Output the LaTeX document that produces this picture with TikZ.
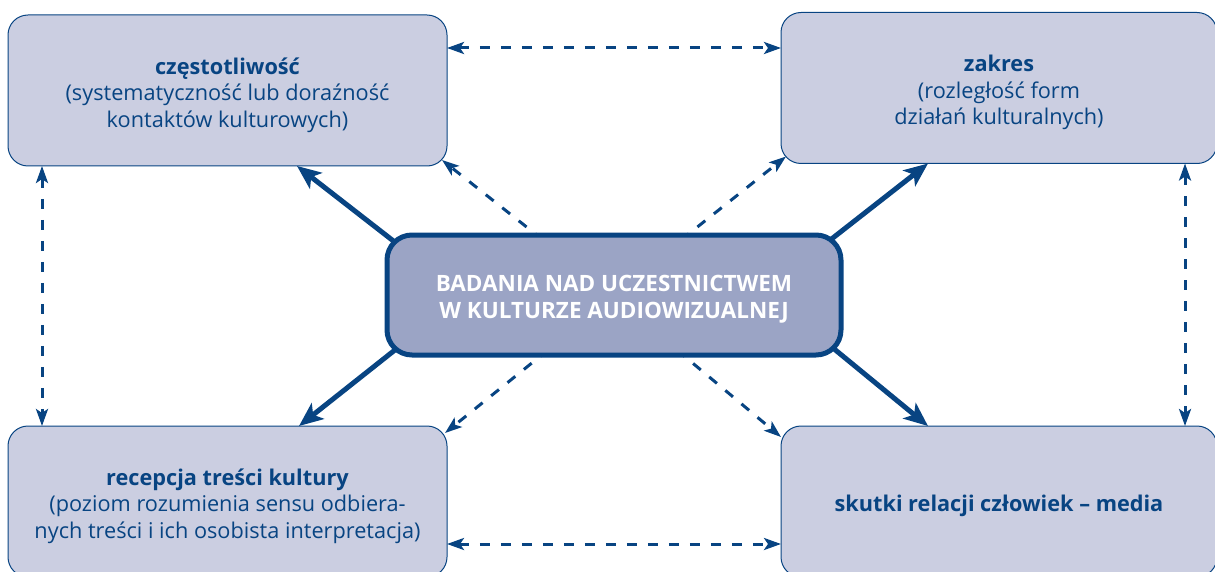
\documentclass[tikz,border=0pt]{standalone}
\usepackage{fontspec}
\setmainfont{Open Sans}
\usetikzlibrary{arrows.meta}
\definecolor{ink}{RGB}{8,68,130}
\definecolor{boxfill}{RGB}{203,206,225}
\definecolor{hubfill}{RGB}{155,164,197}
\pgfdeclarelayer{background}
\pgfsetlayers{background,main}
% centred lines of text, set a little below the middle of their box
\newcommand{\lowertext}[1]{\raisebox{-5pt}[\height][\depth]{\begin{tabular}{@{}c@{}}#1\end{tabular}}}
\tikzset{
  topic/.style={draw=ink, line width=1pt, fill=boxfill, rounded corners=20pt,
    minimum width=439pt, minimum height=151pt, inner sep=0pt, outer sep=0pt,
    align=center, text=ink, font=\fontsize{21.7}{26.5}\selectfont},
  hub/.style={draw=ink, line width=5pt, fill=hubfill, rounded corners=25pt,
    minimum width=454pt, minimum height=120pt, inner sep=0pt, outer sep=0pt,
    align=center, text=white, font=\fontsize{22.5}{27}\selectfont\bfseries},
  link/.style={draw=ink, line width=5pt,
    -{Stealth[length=24pt,width=20pt,inset=6pt]}},
  cross/.style={draw=ink, line width=3pt, dash pattern=on 10pt off 11pt,
    -{Stealth[length=17pt,width=12pt,inset=4pt]}},
  twoway/.style={draw=ink, line width=3pt, dash pattern=on 10pt off 11pt,
    {Stealth[length=17pt,width=12pt,inset=4pt]}-{Stealth[length=17pt,width=12pt,inset=4pt]}},
}
\begin{document}
\begin{tikzpicture}[x=1pt,y=-1pt]
\useasboundingbox (0,0) rectangle (1215,572);

% four aspects of participation
\node[topic] (tl) at (227.5,90.5)
  {\lowertext{\textbf{częstotliwość}\\(systematyczność lub doraźność\\kontaktów kulturowych)}};
\node[topic, minimum width=436pt] (tr) at (999,88)
  {\lowertext{\textbf{zakres}\\(rozległość form\\działań kulturalnych)}};
\node[topic] (bl) at (227.5,501.5)
  {\lowertext{\textbf{recepcja treści kultury}\\(poziom rozumienia sensu odbiera-\\nych treści i ich osobista interpretacja)}};
\node[topic, minimum width=436pt] (br) at (999,501.5)
  {\lowertext{\textbf{skutki relacji człowiek -- media}}};

% central theme
\node[hub] (c) at (614,295)
  {\lowertext{BADANIA NAD UCZESTNICTWEM\\W KULTURZE AUDIOWIZUALNEJ}};

\begin{pgfonlayer}{background}
  % main links from the centre
  \draw[link] ([shift={(18,15)}]c.north west) -- ([shift={(69.5,0)}]tl.south);
  \draw[link] ([shift={(-21,13)}]c.north east) -- ([shift={(-71,0)}]tr.south);
  \draw[link] ([shift={(18,-13)}]c.south west) -- ([shift={(71.5,0)}]bl.north);
  \draw[link] ([shift={(-19,-16)}]c.south east) -- ([shift={(-71,0)}]br.north);
  % secondary links to the box corners
  \draw[cross] ([shift={(156,5)}]c.north west) -- ([shift={(-5,-6)}]tl.south east);
  \draw[cross] ([shift={(-160,5)}]c.north east) -- ([shift={(5,-7)}]tr.south west);
  \draw[cross] ([shift={(161,-5)}]c.south west) -- ([shift={(-2,7)}]bl.north east);
  \draw[cross] ([shift={(-164,-5)}]c.south east) -- ([shift={(0,11)}]br.north west);
  % links between neighbouring aspects
  \draw[twoway] ([shift={(0,-42.5)}]tl.east) -- ([shift={(0,-40)}]tr.west);
  \draw[twoway] ([shift={(0,42.5)}]bl.east) -- ([shift={(0,42.5)}]br.west);
  \draw[twoway] ([shift={(-185.5,0)}]tl.south) -- ([shift={(-185.5,0)}]bl.north);
  \draw[twoway] ([shift={(186,0)}]tr.south) -- ([shift={(186,0)}]br.north);
\end{pgfonlayer}
\end{tikzpicture}
\end{document}
